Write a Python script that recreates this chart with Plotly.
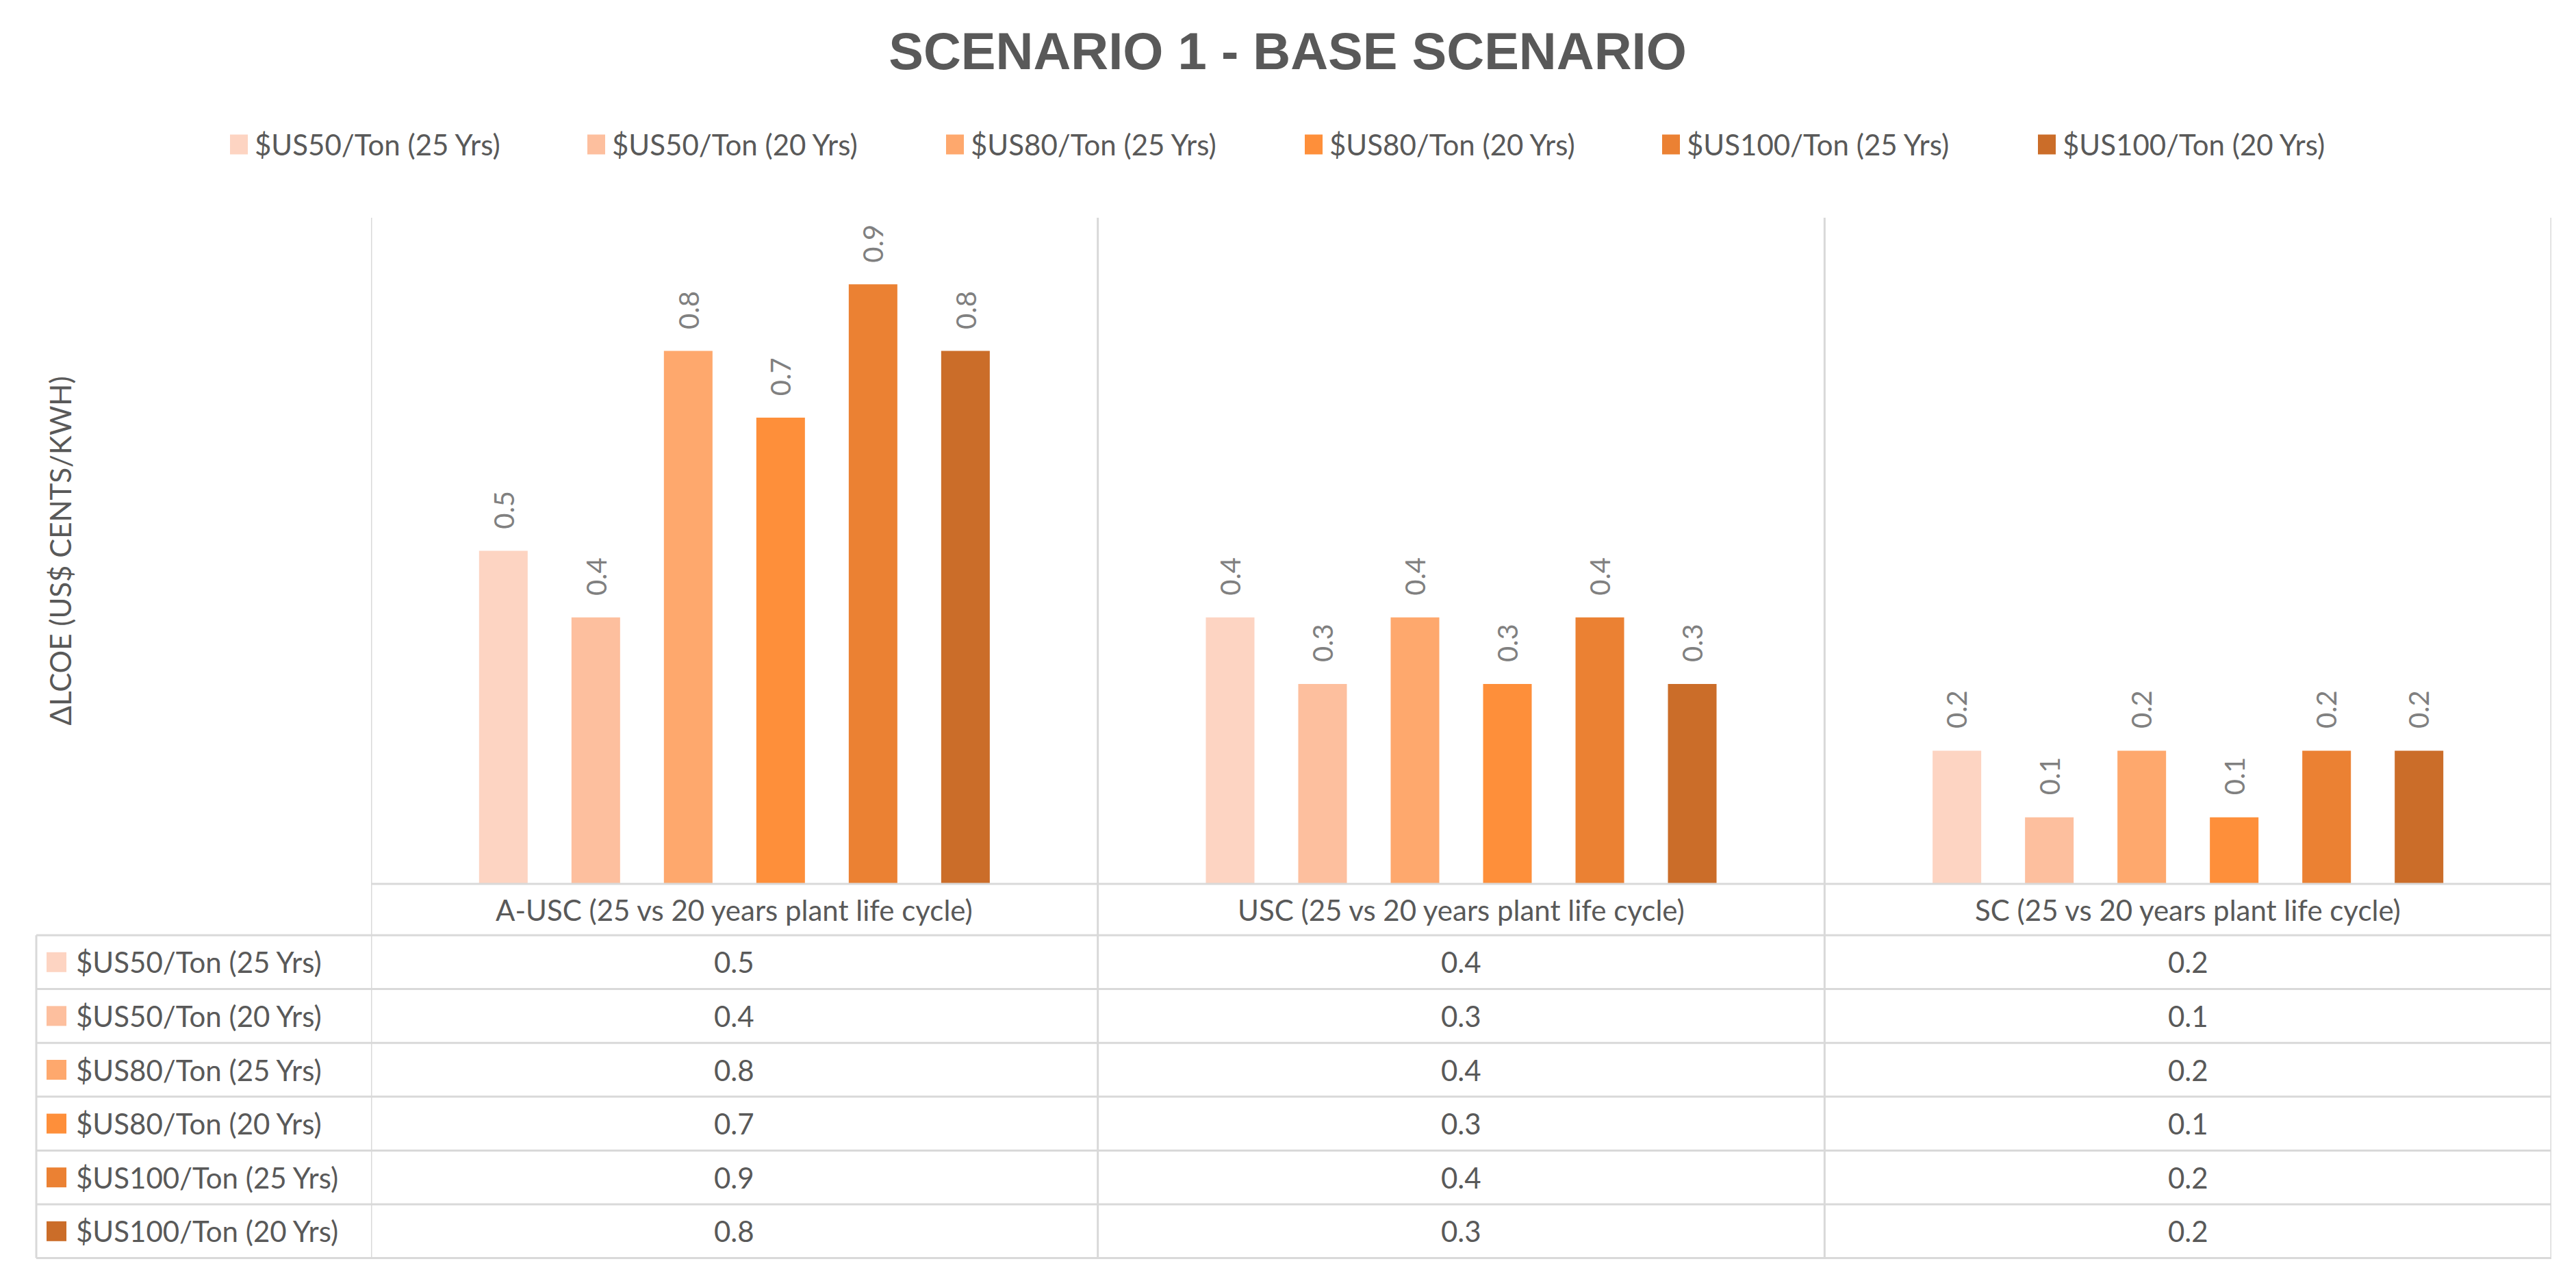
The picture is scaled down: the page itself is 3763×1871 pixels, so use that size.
import plotly.graph_objects as go

# ------------------------------------------------------------------------------------------------
# data

categories = ['A-USC (25 vs 20 years plant life cycle)',
              'USC (25 vs 20 years plant life cycle)',
              'SC (25 vs 20 years plant life cycle)']

series_names = ['$US50/Ton (25 Yrs)', '$US50/Ton (20 Yrs)',
                '$US80/Ton (25 Yrs)', '$US80/Ton (20 Yrs)',
                '$US100/Ton (25 Yrs)', '$US100/Ton (20 Yrs)']

us50_25 = [0.5, 0.4, 0.2]
us50_20 = [0.4, 0.3, 0.1]
us80_25 = [0.8, 0.4, 0.2]
us80_20 = [0.7, 0.3, 0.1]
us100_25 = [0.9, 0.4, 0.2]
us100_20 = [0.8, 0.3, 0.2]

series_values = [us50_25, us50_20, us80_25, us80_20, us100_25, us100_20]

colors = ['#FDD4C2', '#FDBF9E', '#FEA86D', '#FE8F3A', '#EB8133', '#CB6D29']

title = 'SCENARIO 1 - BASE SCENARIO'
y_title = 'ΔLCOE (US$ CENTS/KWH)'

# ------------------------------------------------------------------------------------------------
# page geometry (reference pixels -> paper fractions)

W, H = 3747, 1855
OFF = 8

def fx(px):
    return (px - OFF) / W

def fy(py):
    return 1 - (py - OFF) / H

FONT = 'Lato'
TXT = '#595959'
GRID = '#D9D9D9'
FS = 42

plot_l, plot_r = 542, 3727
plot_t, plot_b = 318, 1291
table_t = 1366
row_h = 78.6
tab_l = 53
n_rows = len(series_names)
table_b = table_t + row_h * n_rows

bargap = 0.237
bargroupgap = 0.474

fig = go.Figure()

for name, vals, col in zip(series_names, series_values, colors):
    fig.add_trace(go.Bar(x=categories, y=vals, name=name, marker_color=col,
                         marker_line_width=0, showlegend=False, hoverinfo='x+y+name'))

shapes = []
annotations = []

# data labels above bars (rotated)
slot = (1 - bargap) / n_rows
for i, vals in enumerate(series_values):
    off = -(1 - bargap) / 2 + slot * (i + 0.5)
    for j, v in enumerate(vals):
        annotations.append(dict(x=j + off, y=v, xref='x', yref='y', text=f'{v}',
                                textangle=-90, showarrow=False, yanchor='bottom',
                                yshift=30, font=dict(family=FONT, size=40, color='#808080')))

# grid lines of the chart / table
def hline(y, x0, x1):
    shapes.append(dict(type='line', xref='paper', yref='paper', x0=fx(x0), x1=fx(x1),
                       y0=fy(y), y1=fy(y), line=dict(color=GRID, width=3)))

def vline(x, y0, y1):
    shapes.append(dict(type='line', xref='paper', yref='paper', x0=fx(x), x1=fx(x),
                       y0=fy(y0), y1=fy(y1), line=dict(color=GRID, width=3)))

hline(plot_b, plot_l, plot_r)
for r in range(n_rows + 1):
    hline(table_t + row_h * r, tab_l, plot_r)

for k in range(len(categories) + 1):
    shapes.append(dict(type='line', xref='x', yref='paper', x0=k - 0.5, x1=k - 0.5,
                       y0=fy(plot_t), y1=fy(table_b), line=dict(color=GRID, width=3)))
vline(tab_l, table_t, table_b)

# category labels
for j, cat in enumerate(categories):
    annotations.append(dict(x=j, y=fy((plot_b + table_t) / 2), xref='x', yref='paper',
                            text=cat, showarrow=False, yanchor='middle',
                            font=dict(family=FONT, size=FS, color=TXT)))

# table rows
for i, (name, vals, col) in enumerate(zip(series_names, series_values, colors)):
    yc = table_t + row_h * (i + 0.5)
    shapes.append(dict(type='rect', xref='paper', yref='paper', x0=fx(68), x1=fx(97),
                       y0=fy(yc - 14.5), y1=fy(yc + 14.5), fillcolor=col, line_width=0))
    annotations.append(dict(x=fx(109), y=fy(yc), xref='paper', yref='paper', text=name,
                            showarrow=False, xanchor='left', yanchor='middle',
                            font=dict(family=FONT, size=FS, color=TXT)))
    for j, v in enumerate(vals):
        annotations.append(dict(x=j, y=fy(yc), xref='x', yref='paper', text=f'{v}',
                                showarrow=False, yanchor='middle',
                                font=dict(family=FONT, size=FS, color=TXT)))

# legend on top
legend_x = [336, 858, 1382, 1906, 2428, 2977]
legend_y = 211
for lx, name, col in zip(legend_x, series_names, colors):
    shapes.append(dict(type='rect', xref='paper', yref='paper', x0=fx(lx), x1=fx(lx + 26),
                       y0=fy(legend_y - 14.5), y1=fy(legend_y + 14.5), fillcolor=col, line_width=0))
    annotations.append(dict(x=fx(lx + 34), y=fy(legend_y), xref='paper', yref='paper', text=name,
                            showarrow=False, xanchor='left', yanchor='middle',
                            font=dict(family=FONT, size=FS, color=TXT)))

# y axis title
annotations.append(dict(x=fx(60), y=fy((plot_t + plot_b) / 2), xref='paper', yref='paper',
                        text=y_title, textangle=-90, showarrow=False,
                        font=dict(family=FONT, size=FS, color=TXT)))

fig.update_layout(
    width=W, height=H,
    margin=dict(l=0, r=0, t=0, b=0),
    paper_bgcolor='white', plot_bgcolor='white',
    barmode='group', bargap=bargap, bargroupgap=bargroupgap,
    title=dict(text=f'<b>{title}</b>', x=fx(1881), y=fy(74), xanchor='center', yanchor='middle',
               font=dict(family='Liberation Sans', size=76, color=TXT)),
    xaxis=dict(domain=[fx(plot_l), fx(plot_r)], range=[-0.5, len(categories) - 0.5],
               showticklabels=False, showgrid=False, zeroline=False, showline=False, ticks=''),
    yaxis=dict(domain=[fy(plot_b), fy(plot_t)], range=[0, 1.0], visible=False),
    shapes=shapes,
    annotations=annotations,
)

fig.write_html('out.html')
